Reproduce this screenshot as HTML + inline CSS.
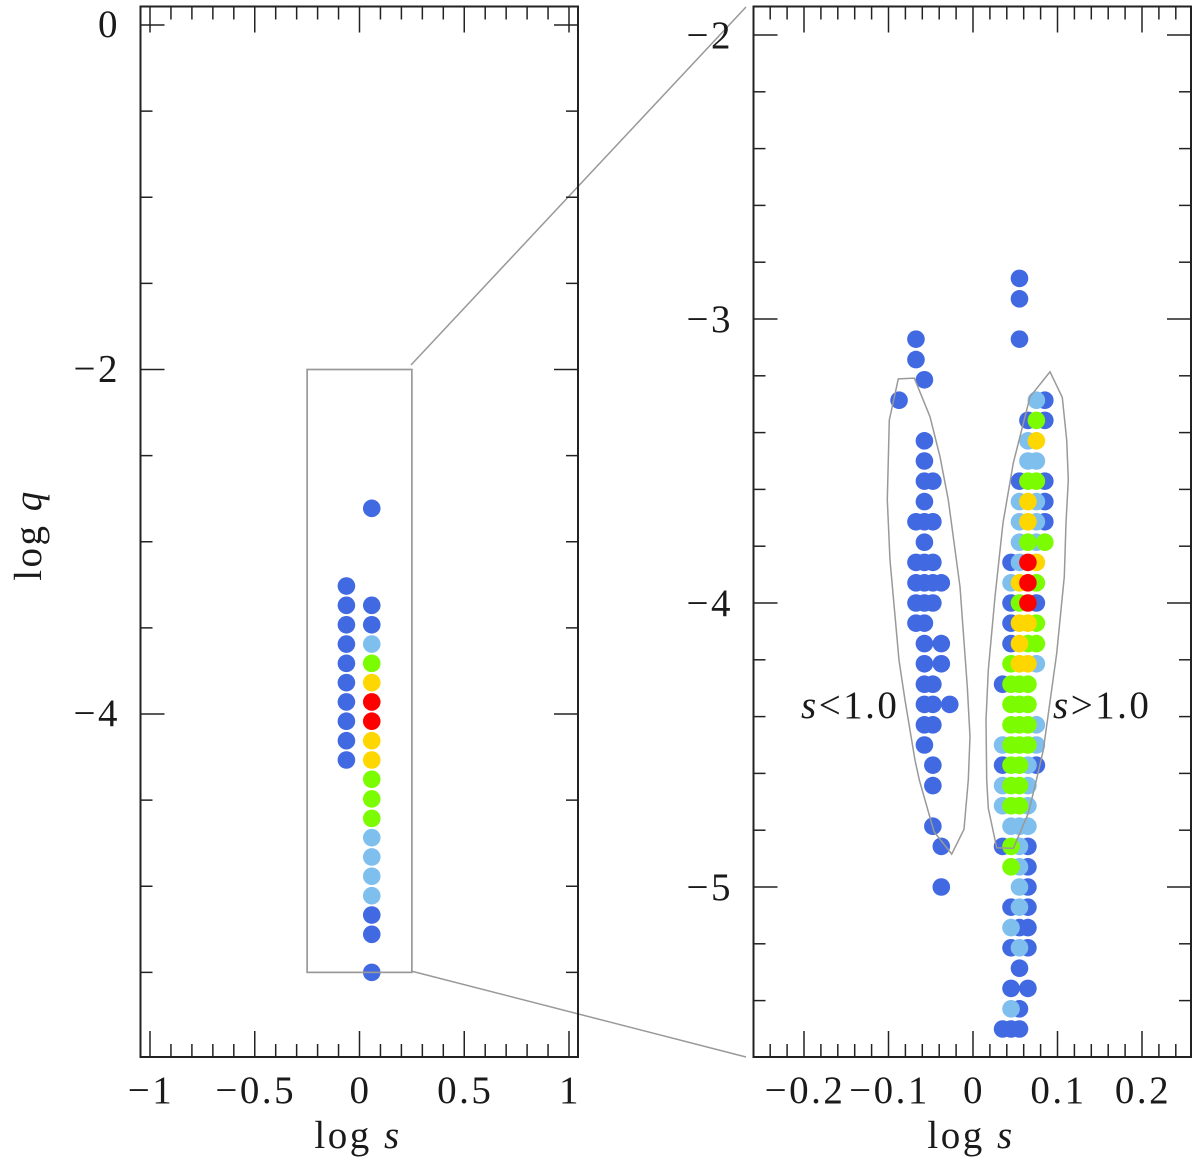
<!DOCTYPE html>
<html lang="en">
<head>
<meta charset="utf-8">
<title>log s – log q maps</title>
<style>
html,body{margin:0;padding:0;background:#fff;}
svg{display:block;}
text{font-family:"Liberation Serif",serif;font-size:39px;fill:#1a1a1a;letter-spacing:2.5px;}
.it{font-style:italic;}
</style>
</head>
<body>
<svg id="chart" xmlns="http://www.w3.org/2000/svg" width="1200" height="1167" viewBox="0 0 1200 1167">
<rect width="1200" height="1167" fill="#fff"/>
<g id="dots"></g>
<g id="overlay"></g>
<g id="axes"></g>
<g id="labels"></g>
</svg>
<script>
// ---- overview panel data: [logS, [logQ...]] ----
const overviewBlue = [
  [-0.0625, [-3.257,-3.369,-3.482,-3.594,-3.706,-3.818,-3.93,-4.042,-4.155,-4.267]],
  [0.0585, [-2.806,-3.369,-3.482,-5.167,-5.279,-5.5]]
];
const overviewLight = [[0.0585, [-3.594,-4.718,-4.83,-4.942,-5.055]]];
const overviewGreen = [[0.0585, [-3.706,-4.379,-4.493,-4.606]]];
const overviewGold = [[0.0585, [-3.818,-4.155,-4.267]]];
const overviewRed = [[0.0585, [-3.93,-4.042]]];

// ---- zoom panel data: [logQ, [logS...]] ----
const zoomBlue = [
  [-2.857,[0.055]],[-2.929,[0.055]],[-3.071,[-0.0675,0.055]],[-3.143,[-0.0675]],[-3.214,[-0.0575]],
  [-3.286,[-0.0875,0.085]],[-3.357,[0.065,0.085]],[-3.429,[-0.0575]],[-3.5,[-0.0575]],
  [-3.571,[-0.0575,-0.0475,0.055,0.085]],[-3.643,[-0.0575,0.085]],[-3.714,[-0.0675,-0.0575,-0.0475,0.085]],
  [-3.786,[-0.0575]],[-3.857,[-0.0675,-0.0575,-0.0475,0.045]],[-3.929,[-0.0675,-0.0575,-0.0475,-0.0375]],
  [-4,[-0.0675,-0.0575,-0.0475,0.045,0.075]],[-4.071,[-0.0675,-0.0575,0.045]],[-4.143,[-0.0575,-0.0375,0.045]],
  [-4.214,[-0.0575,-0.0375]],[-4.286,[-0.0575,-0.0475,0.035]],[-4.357,[-0.0575,-0.0475,-0.0275]],
  [-4.429,[-0.0575,-0.0475]],[-4.5,[-0.0575]],[-4.571,[-0.0475,0.035,0.075]],[-4.643,[-0.0475]],
  [-4.786,[-0.0475]],[-4.857,[-0.0375,0.035,0.065]],[-4.929,[0.065]],[-5,[-0.0375,0.065]],
  [-5.071,[0.045,0.065]],[-5.143,[0.055,0.065]],[-5.214,[0.045,0.065]],[-5.286,[0.055]],
  [-5.357,[0.045,0.065]],[-5.429,[0.055]],[-5.5,[0.035,0.045,0.055]]
];
const zoomLight = [
  [-3.286,[0.075]],[-3.429,[0.065]],[-3.5,[0.065,0.075]],[-3.643,[0.055,0.075]],[-3.714,[0.055,0.075]],
  [-3.786,[0.055,0.075]],[-3.857,[0.055]],[-3.929,[0.045]],[-4.214,[0.075]],[-4.429,[0.075]],
  [-4.5,[0.035,0.075]],[-4.571,[0.065]],[-4.643,[0.035,0.065]],[-4.714,[0.035,0.065]],
  [-4.786,[0.045,0.055,0.065]],[-4.857,[0.055]],[-4.929,[0.055]],[-5,[0.055]],[-5.071,[0.055]],
  [-5.143,[0.045]],[-5.214,[0.055]],[-5.429,[0.045]]
];
const zoomGreen = [
  [-3.357,[0.075]],[-3.571,[0.065,0.075]],[-3.786,[0.065,0.085]],[-3.929,[0.075]],[-4,[0.055]],
  [-4.071,[0.075]],[-4.143,[0.065,0.075]],[-4.214,[0.045]],[-4.286,[0.045,0.055,0.065]],
  [-4.357,[0.045,0.055,0.065]],[-4.429,[0.045,0.055,0.065]],[-4.5,[0.045,0.055,0.065]],
  [-4.571,[0.045,0.055]],[-4.643,[0.045,0.055]],[-4.714,[0.045,0.055]],[-4.857,[0.045]],[-4.929,[0.045]]
];
const zoomGold = [
  [-3.429,[0.075]],[-3.643,[0.065]],[-3.714,[0.065]],[-3.857,[0.075]],[-3.929,[0.055]],
  [-4.071,[0.055,0.065]],[-4.143,[0.055]],[-4.214,[0.055,0.065]]
];
const zoomRed = [[-3.857,[0.065]],[-3.929,[0.065]],[-4,[0.065]]];

// ---- contours in data coordinates ----
const contourLessS = [-0.0884,-0.0695,-0.0509,-0.0391,-0.0292,-0.0154,-0.0067,-0.0036,-0.0056,-0.0107,-0.0252,-0.0462,-0.0636,-0.0686,-0.0805,-0.0876,-0.0982,-0.1014,-0.0991];
const contourLessQ = [-3.211,-3.208,-3.344,-3.485,-3.637,-3.943,-4.295,-4.471,-4.623,-4.797,-4.884,-4.805,-4.623,-4.553,-4.342,-4.201,-3.849,-3.637,-3.356];
const contourMoreS = [0.0911,0.1057,0.1109,0.1128,0.1101,0.108,0.0991,0.0832,0.0742,0.0654,0.0477,0.028,0.0181,0.0162,0.0154,0.0181,0.026,0.0355,0.0477,0.0675];
const contourMoreQ = [-3.186,-3.276,-3.426,-3.567,-3.718,-3.907,-4.177,-4.518,-4.634,-4.74,-4.864,-4.862,-4.723,-4.623,-4.412,-4.236,-3.978,-3.718,-3.507,-3.274];

// ---- tick labels ----
const overviewXTicks = [-1,-0.5,0,0.5,1];
const overviewYTicks = [0,-2,-4];
const zoomXTicks = [-0.2,-0.1,0,0.1,0.2];
const zoomYTicks = [-2,-3,-4,-5];

// ---- axis functions ----
const ovX = s => 359.5 + 209.5 * s;
const ovY = q => 25 - 172.25 * q;
const zmX = s => 973 + 845 * s;
const zmY = q => 35 - 284 * (q + 2);

const NS = 'http://www.w3.org/2000/svg';
const dots = document.getElementById('dots');
const overlay = document.getElementById('overlay');
const axes = document.getElementById('axes');
const labels = document.getElementById('labels');

function mk(parent, tag, attrs) {
  const el = document.createElementNS(NS, tag);
  for (const k in attrs) el.setAttribute(k, attrs[k]);
  parent.appendChild(el);
  return el;
}
function dot(cx, cy, fill, name) {
  const el = mk(dots, 'circle', {cx: cx, cy: cy, r: 8.8, fill: fill});
  
  
}
function tick(x1, y1, x2, y2, name) {
  const el = mk(axes, 'line', {x1: x1, y1: y1, x2: x2, y2: y2, stroke: '#222', 'stroke-width': 1.5});
  
  
}
function label(x, y, anchor, str, name) {
  const el = mk(labels, 'text', {x: x, y: y, 'text-anchor': anchor});
  el.textContent = str;
  
  
  return el;
}
function fmt(v) {
  return (v < 0 ? '\u2212' : '') + String(Math.abs(v));
}

// overview dots
const overviewSeries = [
  [overviewBlue, '#4169E1', 'overview-point-blue'],
  [overviewLight, '#7FBFEE', 'overview-point-light-blue'],
  [overviewGreen, '#7CFC00', 'overview-point-green'],
  [overviewGold, '#FFD700', 'overview-point-gold'],
  [overviewRed, '#FF0000', 'overview-point-red']
];
overviewSeries.forEach(function (entry) {
  entry[0].forEach(function (col) {
    col[1].forEach(function (q) { dot(ovX(col[0]), ovY(q), entry[1], entry[2]); });
  });
});

// zoom dots
const zoomSeries = [
  [zoomBlue, '#4169E1', 'zoom-point-blue'],
  [zoomLight, '#7FBFEE', 'zoom-point-light-blue'],
  [zoomGreen, '#7CFC00', 'zoom-point-green'],
  [zoomGold, '#FFD700', 'zoom-point-gold'],
  [zoomRed, '#FF0000', 'zoom-point-red']
];
zoomSeries.forEach(function (entry) {
  entry[0].forEach(function (row) {
    row[1].forEach(function (s) { dot(zmX(s), zmY(row[0]), entry[1], entry[2]); });
  });
});

// overlays
function outline(sArr, qArr, name) {
  const pts = sArr.map((s, i) => zmX(s).toFixed(1) + ',' + zmY(qArr[i]).toFixed(1)).join(' ');
  const el = mk(overlay, 'polygon', {points: pts, fill: 'none', stroke: '#999', 'stroke-width': 1.5});
  
  
}
outline(contourLessS, contourLessQ, 'contour-s-less-than-1');
outline(contourMoreS, contourMoreQ, 'contour-s-greater-than-1');

const zoomBox = mk(overlay, 'rect', {x: ovX(-0.25), y: ovY(-2), width: ovX(0.25) - ovX(-0.25), height: ovY(-5.5) - ovY(-2), fill: 'none', stroke: '#999', 'stroke-width': 1.7});


const connTop = mk(overlay, 'line', {x1: 411, y1: 365, x2: 746, y2: 7, stroke: '#999', 'stroke-width': 1.5});


const connBottom = mk(overlay, 'line', {x1: 411, y1: 971, x2: 746, y2: 1057, stroke: '#999', 'stroke-width': 1.5});



// frames
const TOP = 6.5, BOTTOM = 1057;
const frameL = mk(axes, 'rect', {x: 140.5, y: TOP, width: 437.5, height: BOTTOM - TOP, fill: 'none', stroke: '#222', 'stroke-width': 2});


const frameR = mk(axes, 'rect', {x: 753.5, y: TOP, width: 437.5, height: BOTTOM - TOP, fill: 'none', stroke: '#222', 'stroke-width': 2});



// ticks: overview
for (let i = -10; i <= 10; i++) {
  const x = ovX(i / 10), len = (i % 5 === 0) ? 26 : 13;
  tick(x, BOTTOM, x, BOTTOM - len, 'overview-x-tick-bottom');
  tick(x, TOP, x, TOP + len, 'overview-x-tick-top');
}
for (let i = 0; i >= -11; i--) {
  const y = ovY(i / 2), len = (i % 4 === 0) ? 24 : 12;
  tick(140.5, y, 140.5 + len, y, 'overview-y-tick-left');
  tick(578, y, 578 - len, y, 'overview-y-tick-right');
}
// ticks: zoom
for (let i = -12; i <= 12; i++) {
  const x = zmX(i / 50), len = (i % 5 === 0) ? 26 : 13;
  tick(x, BOTTOM, x, BOTTOM - len, 'zoom-x-tick-bottom');
  tick(x, TOP, x, TOP + len, 'zoom-x-tick-top');
}
for (let i = -10; i >= -27; i--) {
  const y = zmY(i / 5), len = (i % 5 === 0) ? 24 : 12;
  tick(753.5, y, 753.5 + len, y, 'zoom-y-tick-left');
  tick(1191, y, 1191 - len, y, 'zoom-y-tick-right');
}

// tick labels
overviewXTicks.forEach(v => label(ovX(v) + 1, 1103, 'middle', fmt(v), 'overview-x-tick-label'));
overviewYTicks.forEach(v => label(120, ovY(v) + 12, 'end', fmt(v), 'overview-y-tick-label'));
zoomXTicks.forEach(v => label(zmX(v) + 1, 1103, 'middle', fmt(v), 'zoom-x-tick-label'));
zoomYTicks.forEach(v => label(733, zmY(v) + 13, 'end', fmt(v), 'zoom-y-tick-label'));

// axis titles
function title(x, y, main, ital, name, transform) {
  const el = label(x, y, 'middle', main + ' ', name);
  const sp = mk(el, 'tspan', {class: 'it'});
  sp.textContent = ital;
  
  
  if (transform) el.setAttribute('transform', transform);
}
title(358, 1148, 'log', 's', 'overview-x-axis-title');
title(971, 1148, 'log', 's', 'zoom-x-axis-title');
title(41, 535, 'log', 'q', 'overview-y-axis-title', 'rotate(-90 41 535)');

// annotations
function note(x, op, name) {
  const el = label(x, 718, 'start', '', name);
  const sp = mk(el, 'tspan', {class: 'it'});
  sp.textContent = 's';
  
  
  const rest = mk(el, 'tspan', {});
  rest.textContent = op + '1.0';
  
  
}
note(801, '<', 'annotation-s-less-than-1');
note(1053, '>', 'annotation-s-greater-than-1');
</script>
</body>
</html>
